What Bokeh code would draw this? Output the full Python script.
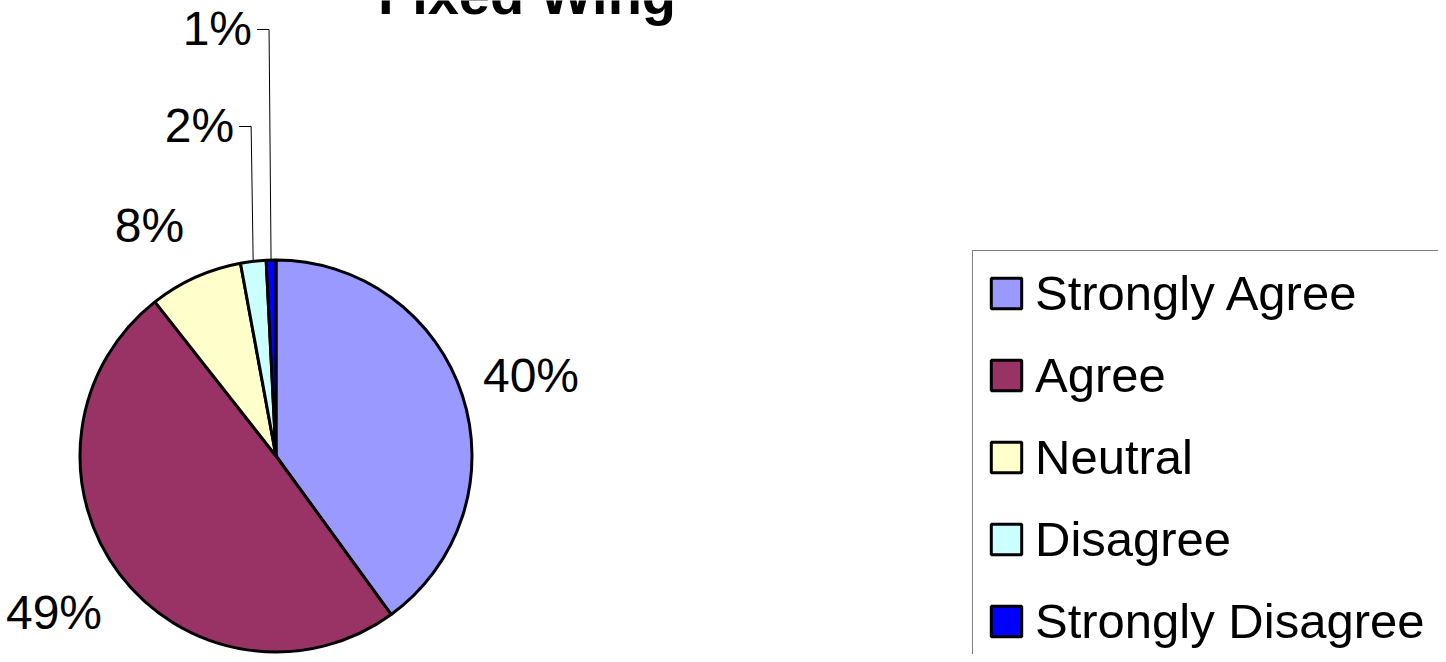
import math
from bokeh.plotting import figure
from bokeh.models import ColumnDataSource, Range1d, Legend, LegendItem
from bokeh.core.properties import value
from bokeh.embed import file_html
from bokeh.resources import INLINE

# ---- data ----
categories = ["Strongly Agree", "Agree", "Neutral", "Disagree", "Strongly Disagree"]
percents = [40.0, 49.4, 7.7, 2.1, 0.8]
colors = ["#9999FF", "#993366", "#FFFFCC", "#CCFFFF", "#0000FF"]
title_text = "Fixed Wing"

# ---- layout (pixel space: 1 data unit = 1 px, y measured upward) ----
W, H = 1438, 654


def px(x):
    return x


def py(y_from_top):
    return H - y_from_top


CX, CY, R = px(275.5), py(455.5), 196.0
FONT = "Liberation Sans"
# label offsets from the pie centre (right, up) for the outside labels
LABEL_OFFSETS = {0: (255.0, 80.5), 1: (-222.0, -156.0), 2: (-126.5, 230.5)}
# leader-line elbow heights for the tiny slices
ELBOW_Y = {3: py(126), 4: py(29)}

total = sum(percents)
starts, ends, mids = [], [], []
cum = 0.0
for v in percents:
    a0 = math.pi / 2 - 2 * math.pi * cum / total
    cum += v
    a1 = math.pi / 2 - 2 * math.pi * cum / total
    starts.append(a0)
    ends.append(a1)
    mids.append((a0 + a1) / 2)

labels = [f"{round(v)}%" for v in percents]

p = figure(width=W, height=H, output_backend="svg", toolbar_location=None,
           x_range=Range1d(0, W), y_range=Range1d(0, H),
           x_axis_location=None, y_axis_location=None, min_border=0,
           tools="")
p.grid.visible = False
p.outline_line_color = None
p.background_fill_color = "white"
p.border_fill_color = "white"

src = ColumnDataSource(dict(cat=categories, start=starts, end=ends, color=colors))
wr = p.wedge(x=CX, y=CY, radius=R, start_angle="start", end_angle="end",
             direction="clock", fill_color="color", line_color="black",
             line_width=3, source=src)

big_x, big_y, big_t = [], [], []
for i, (dx, dy) in LABEL_OFFSETS.items():
    big_x.append(CX + dx)
    big_y.append(CY + dy)
    big_t.append(labels[i])

p.text(x=big_x, y=big_y, text=big_t, text_font=value(FONT), text_font_size="48px",
       text_align="center", text_baseline="middle", text_color="black")

# small slices: leader lines going up to label elbows
for i, ely in ELBOW_Y.items():
    m = mids[i]
    ex, ey = CX + (R + 1) * math.cos(m), CY + (R + 1) * math.sin(m)
    elx = ex - 2
    hx = elx - 12
    p.line([ex, elx, hx], [ey, ely, ely], line_color="black", line_width=1)
    p.text(x=[hx - 5], y=[ely + 1], text=[labels[i]], text_font=value(FONT),
           text_font_size="48px", text_align="right", text_baseline="middle",
           text_color="black")

# title (partly cut off at the top, as in the original)
p.text(x=[px(526.5)], y=[py(-6)], text=[title_text], text_font=value(FONT),
       text_font_size="56px", text_font_style="bold", text_align="center",
       text_baseline="alphabetic", text_color="black")

items = [LegendItem(label=c, renderers=[wr], index=i) for i, c in enumerate(categories)]
legend = Legend(items=items, location=(px(972), -10),
                orientation="vertical",
                label_text_font=FONT, label_text_font_size="49px",
                label_text_color="black",
                glyph_width=38, glyph_height=38, label_standoff=10,
                label_width=470, label_height=55,
                spacing=26, padding=14, margin=0,
                border_line_color="black", border_line_width=1,
                background_fill_color="white", background_fill_alpha=1.0)
p.add_layout(legend, "center")

open("out.html", "w").write(file_html(p, INLINE))
